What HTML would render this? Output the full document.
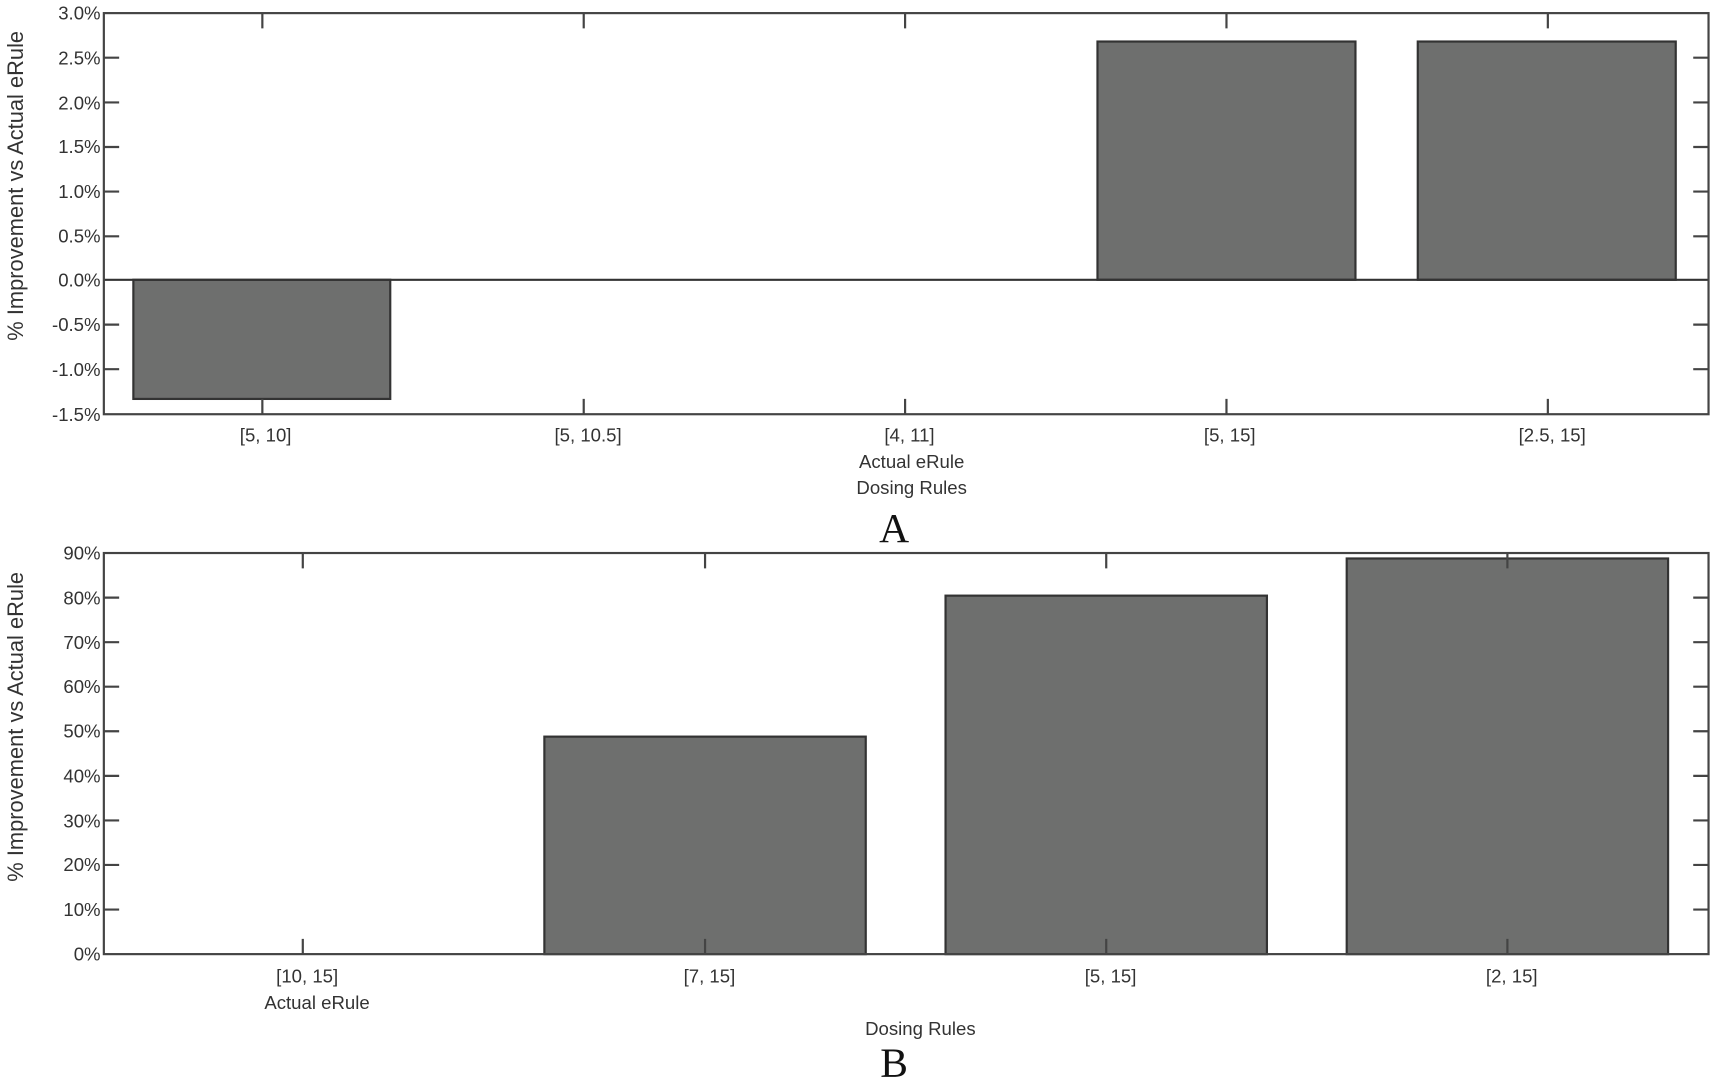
<!DOCTYPE html>
<html><head><meta charset="utf-8"><style>
html,body{margin:0;padding:0;background:#fff;}
svg{display:block;}
text{font-family:"Liberation Sans",sans-serif;fill:#333;}
text.ser{font-family:"Liberation Serif",serif;fill:#111;}
</style></head><body>
<svg width="1714" height="1082" viewBox="0 0 1568 990" preserveAspectRatio="none" xmlns="http://www.w3.org/2000/svg">
<g font-size="17">
<!-- Plot A -->
<g stroke="#333" stroke-width="2" fill="#6e6f6e">
<rect x="122" y="256" width="235" height="109"/>
<rect x="1004" y="38" width="236" height="218"/>
<rect x="1297" y="38" width="236" height="218"/>
</g>
<line x1="95" y1="256" x2="1563" y2="256" stroke="#333" stroke-width="2"/>
<rect x="95" y="12" width="1468" height="367" fill="none" stroke="#444" stroke-width="2"/>
<g stroke="#444" stroke-width="2">
<path d="M240 12v14M534 12v14M828 12v14M1122 12v14M1416 12v14M240 379v-14M534 379v-14M828 379v-14M1122 379v-14M1416 379v-14"/>
<path d="M95 52.8h14M95 93.7h14M95 134.5h14M95 175.3h14M95 216.2h14M95 297h14M95 337.8h14M1563 52.8h-14M1563 93.7h-14M1563 134.5h-14M1563 175.3h-14M1563 216.2h-14M1563 297h-14M1563 337.8h-14"/>
</g>
<g text-anchor="end">
<text x="92" y="18">3.0%</text><text x="92" y="59">2.5%</text><text x="92" y="100">2.0%</text><text x="92" y="140">1.5%</text><text x="92" y="181">1.0%</text><text x="92" y="222">0.5%</text><text x="92" y="262">0.0%</text><text x="92" y="303">-0.5%</text><text x="92" y="344">-1.0%</text><text x="92" y="385">-1.5%</text>
</g>
<g text-anchor="middle">
<text x="243" y="404">[5, 10]</text><text x="538" y="404">[5, 10.5]</text><text x="832" y="404">[4, 11]</text><text x="1125" y="404">[5, 15]</text><text x="1420" y="404">[2.5, 15]</text>
<text x="834" y="428">Actual eRule</text><text x="834" y="452">Dosing Rules</text>
<text class="ser" x="818" y="496" font-size="38">A</text>
</g>
<text transform="translate(21,170) rotate(-90)" text-anchor="middle" font-size="20">% Improvement vs Actual eRule</text>

<!-- Plot B -->
<g stroke="#333" stroke-width="2" fill="#6e6f6e">
<rect x="498" y="674" width="294" height="199"/>
<rect x="865" y="545" width="294" height="328"/>
<rect x="1232" y="511" width="294" height="362"/>
</g>
<rect x="95" y="506" width="1468" height="367" fill="none" stroke="#444" stroke-width="2"/>
<g stroke="#444" stroke-width="2">
<path d="M277 506v14M645 506v14M1012 506v14M1379 506v14M277 873v-14M645 873v-14M1012 873v-14M1379 873v-14"/>
<path d="M95 546.8h14M95 587.6h14M95 628.3h14M95 669.1h14M95 709.9h14M95 750.7h14M95 791.4h14M95 832.2h14M1563 546.8h-14M1563 587.6h-14M1563 628.3h-14M1563 669.1h-14M1563 709.9h-14M1563 750.7h-14M1563 791.4h-14M1563 832.2h-14"/>
</g>
<g text-anchor="end">
<text x="92" y="512">90%</text><text x="92" y="553">80%</text><text x="92" y="594">70%</text><text x="92" y="634">60%</text><text x="92" y="675">50%</text><text x="92" y="716">40%</text><text x="92" y="757">30%</text><text x="92" y="797">20%</text><text x="92" y="838">10%</text><text x="92" y="879">0%</text>
</g>
<g text-anchor="middle">
<text x="281" y="899">[10, 15]</text><text x="649" y="899">[7, 15]</text><text x="1016" y="899">[5, 15]</text><text x="1383" y="899">[2, 15]</text>
<text x="290" y="923">Actual eRule</text>
<text x="842" y="947">Dosing Rules</text>
<text class="ser" x="818" y="985" font-size="38">B</text>
</g>
<text transform="translate(21,665) rotate(-90)" text-anchor="middle" font-size="20">% Improvement vs Actual eRule</text>
</g>
</svg>
</body></html>
